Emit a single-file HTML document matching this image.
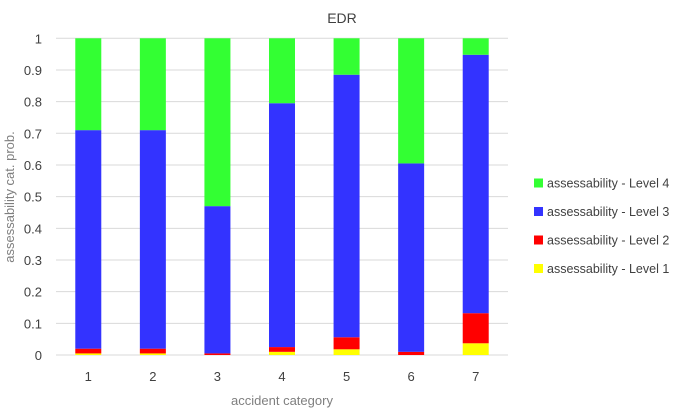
<!DOCTYPE html>
<html><head><meta charset="utf-8"><style>
body{margin:0;background:#fff;font-family:"Liberation Sans",sans-serif}
</style></head><body>
<svg id="c" width="685" height="408" xmlns="http://www.w3.org/2000/svg"></svg>
<script>
const categories=["1","2","3","4","5","6","7"];
const level1=[0.005,0.005,0,0.01,0.018,0,0.037];
const level2=[0.015,0.015,0.005,0.015,0.038,0.01,0.095];
const level3=[0.69,0.69,0.465,0.77,0.829,0.595,0.816];
const level4=[0.29,0.29,0.53,0.205,0.115,0.395,0.052];
const yTicks=[0,0.1,0.2,0.3,0.4,0.5,0.6,0.7,0.8,0.9,1];
const seriesNames=["assessability - Level 4","assessability - Level 3","assessability - Level 2","assessability - Level 1"];
const svg=document.getElementById('c');
const NS="http://www.w3.org/2000/svg";
const x0=56,x1=508,yb=355,yt=38.3;
const y=v=>yb-(yb-yt)*v;
const bw=(x1-x0)/categories.length;
const xc=i=>x0+bw*(i+0.5);
function mk(t,a,txt){const e=document.createElementNS(NS,t);for(const k in a)e.setAttribute(k,a[k]);if(txt!=null)e.textContent=txt;svg.appendChild(e);return e;}
let e=mk('text',{x:342,y:23,'text-anchor':'middle','font-size':14,fill:'#404040'},'EDR');


yTicks.forEach(v=>{
  let g=mk('line',{x1:x0,x2:x1,y1:y(v),y2:y(v),stroke:'#d9d9d9','stroke-width':1});
  
  
  let t=mk('text',{x:42,y:y(v)+5,'text-anchor':'end','font-size':13,fill:'#404040'},String(v));
  
  
});
const series=[level1,level2,level3,level4];
const colors=['#ffff00','#ff0000','#3333ff','#33ff33'];
const names=['level-1','level-2','level-3','level-4'];
categories.forEach((c,i)=>{
  let cum=0;
  series.forEach((s,k)=>{
    const v=s[i];
    if(v>0){
      let r=mk('rect',{x:xc(i)-13,y:y(cum+v),width:26,height:y(cum)-y(cum+v),fill:colors[k]});
      
      
    }
    cum+=v;
  });
  let t=mk('text',{x:xc(i),y:381,'text-anchor':'middle','font-size':13,fill:'#404040'},c);
  
  
});
e=mk('text',{x:282,y:405,'text-anchor':'middle','font-size':13,fill:'#7f7f7f'},'accident category');


e=mk('text',{x:0,y:0,'text-anchor':'middle','font-size':13,fill:'#7f7f7f',transform:'translate(14,197) rotate(-90)'},'assessability cat. prob.');


const legY=[183,211.5,240,268.5];
const legColors=['#33ff33','#3333ff','#ff0000','#ffff00'];
seriesNames.forEach((n,k)=>{
  let r=mk('rect',{x:534,y:legY[k]-4.5,width:9,height:9,fill:legColors[k]});
  
  
  let t=mk('text',{x:547,y:legY[k]+4.5,'font-size':12.5,fill:'#404040'},n);
  
  
});
</script>
</body></html>
